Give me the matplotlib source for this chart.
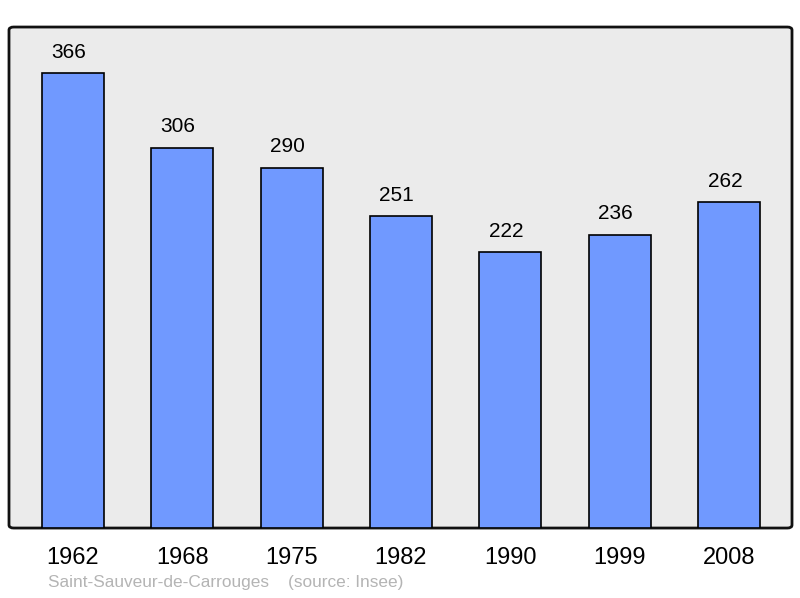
import matplotlib.pyplot as plt
from matplotlib.patches import FancyBboxPatch

years = ['1962', '1968', '1975', '1982', '1990', '1999', '2008']
population = [366, 306, 290, 251, 222, 236, 262]

plt.rcParams['font.family'] = ['Liberation Sans', 'DejaVu Sans']

fig = plt.figure(figsize=(8, 5.98), dpi=100)
ax = fig.add_axes([0.01125, 0.117, 0.97875, 0.8378])

x = range(len(years))
ax.bar(x, population, width=0.567, color='#7099ff', edgecolor='black', linewidth=1.2, zorder=2)

# value labels sit a little left of the bar centre in the original
for xi, v in zip(x, population):
    ax.annotate(str(v), (xi, v), xytext=(-3, 15), textcoords='offset points',
                ha='center', va='center', fontsize=15)

ax.set_xlim(-0.585, 6.576)
ax.set_ylim(0, 403)
ax.set_xticks(list(x))
ax.set_xticklabels(years, fontsize=17)
ax.tick_params(axis='x', length=0, pad=14)
ax.set_yticks([])
ax.set_facecolor('none')
for s in ax.spines.values():
    s.set_visible(False)

frame = FancyBboxPatch((0, 0), 1, 1, boxstyle='round,pad=0,rounding_size=0.006',
                       transform=ax.transAxes, facecolor='#ebebeb', edgecolor='#111111',
                       linewidth=2, zorder=0, clip_on=False)
ax.add_patch(frame)

fig.text(48 / 800, 1 - 583 / 598, 'Saint-Sauveur-de-Carrouges    (source: Insee)',
         fontsize=12.4, color='#b4b4b4', va='center')

fig.savefig('out.png', dpi=100)
